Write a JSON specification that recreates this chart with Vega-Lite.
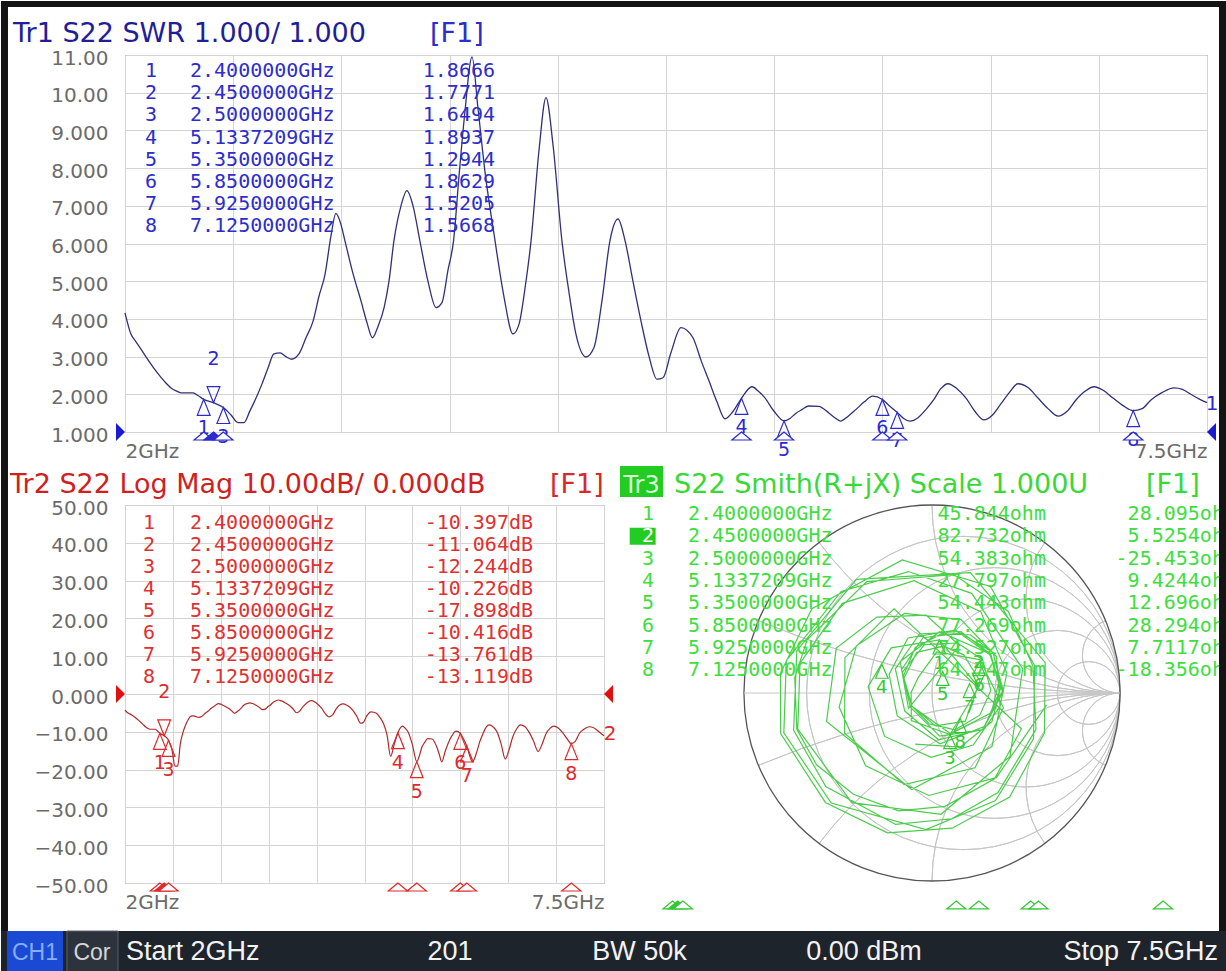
{
"$schema":"https://vega.github.io/schema/vega-lite/v6.json",
"padding":0,
"background":"#ffffff",
"config":{
 "view":{"stroke":"#6a6a6a","strokeWidth":1},
 "axis":{"ticks":false,"domain":false,"labelColor":"#6b6b6b","labelFont":"DejaVu Sans","labelFontSize":20,"gridColor":"#d4d4d4","gridWidth":1}
},
"datasets":{
 "trace":[
{"f":2.0,"s":4.16,"db":-4.26,"re":0.609,"im":-0.064},
{"f":2.03,"s":3.6,"db":-4.96,"re":0.342,"im":-0.45},
{"f":2.055,"s":3.4,"db":-5.26,"re":-0.017,"im":-0.545},
{"f":2.081,"s":3.2,"db":-5.62,"re":-0.353,"im":-0.387},
{"f":2.106,"s":3.0,"db":-6.02,"re":-0.494,"im":-0.075},
{"f":2.132,"s":2.8,"db":-6.49,"re":-0.402,"im":0.251},
{"f":2.157,"s":2.62,"db":-6.98,"re":-0.146,"im":0.423},
{"f":2.183,"s":2.45,"db":-7.53,"re":0.154,"im":0.391},
{"f":2.208,"s":2.3,"db":-8.09,"re":0.343,"im":0.194},
{"f":2.234,"s":2.17,"db":-8.66,"re":0.362,"im":-0.071},
{"f":2.26,"s":2.09,"db":-9.05,"re":0.219,"im":-0.277},
{"f":2.285,"s":2.04,"db":-9.32,"re":-0.004,"im":-0.342},
{"f":2.315,"s":2.04,"db":-9.32,"re":-0.252,"im":-0.231},
{"f":2.346,"s":2.04,"db":-9.32,"re":-0.34,"im":0.034},
{"f":2.373,"s":1.96,"db":-9.78,"re":-0.217,"im":0.24},
{"f":2.4,"s":1.8666,"db":-10.397,"re":0.039,"im":0.282},
{"f":2.45,"s":1.7771,"db":-11.064,"re":0.248,"im":0.031},
{"f":2.5,"s":1.6494,"db":-12.244,"re":0.096,"im":-0.221},
{"f":2.539,"s":1.45,"db":-14.72,"re":-0.11,"im":-0.147},
{"f":2.574,"s":1.25,"db":-19.08,"re":-0.111,"im":0.003},
{"f":2.605,"s":1.25,"db":-19.08,"re":-0.072,"im":0.085},
{"f":2.635,"s":1.56,"db":-13.2,"re":0.025,"im":0.218},
{"f":2.666,"s":1.9,"db":-10.16,"re":0.254,"im":0.178},
{"f":2.696,"s":2.27,"db":-8.21,"re":0.38,"im":-0.079},
{"f":2.727,"s":2.7,"db":-6.75,"re":0.229,"im":-0.398},
{"f":2.757,"s":3.07,"db":-5.87,"re":-0.148,"im":-0.487},
{"f":2.788,"s":3.1,"db":-5.81,"re":-0.465,"im":-0.214},
{"f":2.818,"s":3.0,"db":-6.02,"re":-0.463,"im":0.188},
{"f":2.846,"s":2.93,"db":-6.18,"re":-0.202,"im":0.448},
{"f":2.884,"s":3.07,"db":-5.87,"re":0.476,"im":-0.19},
{"f":2.92,"s":3.5,"db":-5.11,"re":0.333,"im":-0.456},
{"f":2.956,"s":3.94,"db":-4.51,"re":0.069,"im":-0.603},
{"f":2.986,"s":4.6,"db":-3.84,"re":-0.178,"im":-0.627},
{"f":3.017,"s":5.19,"db":-3.39,"re":-0.418,"im":-0.539},
{"f":3.047,"s":6.2,"db":-2.83,"re":-0.614,"im":-0.382},
{"f":3.072,"s":6.8,"db":-2.57,"re":-0.719,"im":-0.193},
{"f":3.098,"s":6.5,"db":-2.69,"re":-0.73,"im":0.082},
{"f":3.118,"s":6.07,"db":-2.89,"re":-0.664,"im":0.283},
{"f":3.159,"s":5.2,"db":-3.38,"re":-0.347,"im":0.593},
{"f":3.2,"s":4.47,"db":-3.95,"re":0.116,"im":0.63},
{"f":3.23,"s":3.9,"db":-4.56,"re":0.405,"im":0.435},
{"f":3.258,"s":3.5,"db":-5.11,"re":0.537,"im":0.143},
{"f":3.286,"s":3.8,"db":-4.68,"re":0.553,"im":-0.193},
{"f":3.317,"s":4.3,"db":-4.12,"re":0.351,"im":-0.529},
{"f":3.342,"s":5.0,"db":-3.52,"re":0.105,"im":-0.669},
{"f":3.367,"s":6.07,"db":-2.89,"re":-0.193,"im":-0.699},
{"f":3.403,"s":7.0,"db":-2.5,"re":-0.565,"im":-0.497},
{"f":3.433,"s":7.4,"db":-2.36,"re":-0.736,"im":-0.198},
{"f":3.464,"s":7.0,"db":-2.5,"re":-0.719,"im":0.225},
{"f":3.499,"s":6.07,"db":-2.89,"re":-0.402,"im":0.604},
{"f":3.54,"s":5.0,"db":-3.52,"re":0.204,"im":0.64},
{"f":3.581,"s":4.3,"db":-4.12,"re":0.602,"im":0.161},
{"f":3.611,"s":4.43,"db":-3.99,"re":0.598,"im":-0.213},
{"f":3.642,"s":5.3,"db":-3.32,"re":0.413,"im":-0.553},
{"f":3.67,"s":6.07,"db":-2.89,"re":0.107,"im":-0.719},
{"f":3.698,"s":7.8,"db":-2.24,"re":-0.237,"im":-0.744},
{"f":3.728,"s":9.5,"db":-1.84,"re":-0.567,"im":-0.582},
{"f":3.764,"s":10.95,"db":-1.59,"re":-0.805,"im":-0.216},
{"f":3.794,"s":9.6,"db":-1.82,"re":-0.806,"im":0.105},
{"f":3.83,"s":7.9,"db":-2.21,"re":-0.639,"im":0.448},
{"f":3.881,"s":6.07,"db":-2.89,"re":-0.158,"im":0.708},
{"f":3.926,"s":4.6,"db":-3.84,"re":0.311,"im":0.567},
{"f":3.972,"s":3.6,"db":-4.96,"re":0.546,"im":0.146},
{"f":4.003,"s":3.86,"db":-4.61,"re":0.54,"im":-0.244},
{"f":4.033,"s":4.8,"db":-3.67,"re":0.338,"im":-0.572},
{"f":4.064,"s":6.07,"db":-2.89,"re":-0.032,"im":-0.726},
{"f":4.105,"s":8.5,"db":-2.05,"re":-0.536,"im":-0.585},
{"f":4.14,"s":9.87,"db":-1.77,"re":-0.788,"im":-0.212},
{"f":4.176,"s":8.6,"db":-2.03,"re":-0.775,"im":0.172},
{"f":4.221,"s":6.07,"db":-2.89,"re":-0.483,"im":0.54},
{"f":4.257,"s":4.7,"db":-3.75,"re":-0.125,"im":0.646},
{"f":4.292,"s":3.6,"db":-4.96,"re":0.211,"im":0.53},
{"f":4.343,"s":2.99,"db":-6.04,"re":0.482,"im":0.129},
{"f":4.384,"s":3.24,"db":-5.54,"re":0.415,"im":-0.337},
{"f":4.425,"s":4.5,"db":-3.93,"re":0.048,"im":-0.645},
{"f":4.465,"s":6.07,"db":-2.89,"re":-0.426,"im":-0.583},
{"f":4.506,"s":6.65,"db":-2.63,"re":-0.714,"im":-0.192},
{"f":4.542,"s":6.07,"db":-2.89,"re":-0.702,"im":0.159},
{"f":4.582,"s":5.0,"db":-3.52,"re":-0.477,"im":0.477},
{"f":4.623,"s":3.94,"db":-4.51,"re":-0.095,"im":0.597},
{"f":4.664,"s":3.0,"db":-6.02,"re":0.259,"im":0.433},
{"f":4.704,"s":2.4,"db":-7.71,"re":0.398,"im":0.106},
{"f":4.735,"s":2.44,"db":-7.56,"re":0.319,"im":-0.285},
{"f":4.775,"s":3.1,"db":-5.81,"re":-0.108,"im":-0.513},
{"f":4.826,"s":3.77,"db":-4.72,"re":-0.561,"im":-0.151},
{"f":4.887,"s":3.5,"db":-5.11,"re":-0.509,"im":0.239},
{"f":4.928,"s":2.9,"db":-6.25,"re":-0.294,"im":0.404},
{"f":4.969,"s":2.35,"db":-7.89,"re":-0.032,"im":0.414},
{"f":5.009,"s":1.8,"db":-10.88,"re":0.146,"im":0.253},
{"f":5.05,"s":1.35,"db":-16.54,"re":-0.125,"im":-0.082},
{"f":5.091,"s":1.55,"db":-13.32,"re":-0.169,"im":0.167},
{"f":5.1337,"s":1.8937,"db":-10.226,"re":0.04,"im":0.326},
{"f":5.187,"s":2.2,"db":-8.52,"re":0.313,"im":0.206},
{"f":5.22,"s":2.08,"db":-9.1,"re":0.354,"im":0.053},
{"f":5.252,"s":1.91,"db":-10.1,"re":0.316,"im":-0.105},
{"f":5.299,"s":1.55,"db":-13.32,"re":0.099,"im":-0.217},
{"f":5.35,"s":1.2944,"db":-17.898,"re":-0.107,"im":-0.071},
{"f":5.38,"s":1.36,"db":-16.33,"re":-0.15,"im":0.077},
{"f":5.411,"s":1.5,"db":-13.98,"re":-0.081,"im":0.216},
{"f":5.443,"s":1.6,"db":-12.74,"re":0.062,"im":0.249},
{"f":5.475,"s":1.69,"db":-11.82,"re":0.169,"im":0.203},
{"f":5.526,"s":1.68,"db":-11.91,"re":0.255,"im":0.064},
{"f":5.579,"s":1.5,"db":-13.98,"re":0.177,"im":-0.15},
{"f":5.608,"s":1.38,"db":-15.93,"re":0.019,"im":-0.175},
{"f":5.637,"s":1.29,"db":-17.95,"re":-0.106,"im":-0.07},
{"f":5.676,"s":1.42,"db":-15.21,"re":-0.158,"im":0.11},
{"f":5.716,"s":1.6,"db":-12.74,"re":-0.04,"im":0.257},
{"f":5.758,"s":1.8,"db":-10.88,"re":0.136,"im":0.266},
{"f":5.8,"s":1.95,"db":-9.84,"re":0.269,"im":0.177},
{"f":5.85,"s":1.8629,"db":-10.416,"re":0.313,"im":0.013},
{"f":5.888,"s":1.68,"db":-11.91,"re":0.254,"im":-0.118},
{"f":5.925,"s":1.5205,"db":-13.761,"re":0.123,"im":-0.196},
{"f":5.958,"s":1.36,"db":-16.33,"re":-0.014,"im":-0.164},
{"f":5.99,"s":1.29,"db":-17.95,"re":-0.106,"im":-0.07},
{"f":6.031,"s":1.38,"db":-15.93,"re":-0.153,"im":0.087},
{"f":6.072,"s":1.6,"db":-12.74,"re":-0.089,"im":0.243},
{"f":6.11,"s":1.85,"db":-10.51,"re":0.05,"im":0.314},
{"f":6.147,"s":2.15,"db":-8.75,"re":0.204,"im":0.31},
{"f":6.183,"s":2.28,"db":-8.17,"re":0.325,"im":0.215},
{"f":6.229,"s":2.15,"db":-8.75,"re":0.374,"im":0.009},
{"f":6.275,"s":1.9,"db":-10.16,"re":0.269,"im":-0.195},
{"f":6.32,"s":1.55,"db":-13.32,"re":0.041,"im":-0.229},
{"f":6.366,"s":1.32,"db":-17.21,"re":-0.115,"im":-0.076},
{"f":6.41,"s":1.45,"db":-14.72,"re":-0.162,"im":0.124},
{"f":6.453,"s":1.75,"db":-11.29,"re":-0.048,"im":0.294},
{"f":6.496,"s":2.05,"db":-9.26,"re":0.153,"im":0.319},
{"f":6.539,"s":2.28,"db":-8.17,"re":0.325,"im":0.215},
{"f":6.59,"s":2.18,"db":-8.61,"re":0.38,"im":0.009},
{"f":6.641,"s":1.9,"db":-10.16,"re":0.271,"im":-0.193},
{"f":6.692,"s":1.62,"db":-12.52,"re":0.035,"im":-0.249},
{"f":6.743,"s":1.42,"db":-15.21,"re":-0.145,"im":-0.096},
{"f":6.789,"s":1.55,"db":-13.32,"re":-0.195,"im":0.128},
{"f":6.834,"s":1.85,"db":-10.51,"re":-0.067,"im":0.314},
{"f":6.88,"s":2.08,"db":-9.1,"re":0.153,"im":0.327},
{"f":6.926,"s":2.2,"db":-8.52,"re":0.313,"im":0.206},
{"f":6.974,"s":2.1,"db":-9.0,"re":0.364,"im":0.02},
{"f":7.022,"s":1.9,"db":-10.16,"re":0.281,"im":-0.177},
{"f":7.073,"s":1.7,"db":-11.73,"re":0.043,"im":-0.27},
{"f":7.125,"s":1.5668,"db":-13.119,"re":-0.185,"im":-0.122},
{"f":7.17,"s":1.62,"db":-12.52,"re":-0.228,"im":0.099},
{"f":7.215,"s":1.85,"db":-10.51,"re":-0.128,"im":0.293},
{"f":7.273,"s":2.05,"db":-9.26,"re":0.125,"im":0.334},
{"f":7.332,"s":2.17,"db":-8.66,"re":0.308,"im":0.203},
{"f":7.375,"s":2.13,"db":-8.85,"re":0.367,"im":0.039},
{"f":7.418,"s":2.0,"db":-9.54,"re":0.319,"im":-0.152},
{"f":7.459,"s":1.88,"db":-10.3,"re":0.15,"im":-0.288},
{"f":7.5,"s":1.78,"db":-11.03,"re":-0.09,"im":-0.272}
 ],
 "markers":[
{"m":1,"f":2.4,"s":1.8666,"db":-10.397,"re":0.039,"im":0.282,"ft":"2.4000000GHz","st":"1.8666","dt":"-10.397dB","rt":"45.844ohm","xt":"28.095ohm"},
{"m":2,"f":2.45,"s":1.7771,"db":-11.064,"re":0.248,"im":0.031,"ft":"2.4500000GHz","st":"1.7771","dt":"-11.064dB","rt":"82.732ohm","xt":"5.5254ohm"},
{"m":3,"f":2.5,"s":1.6494,"db":-12.244,"re":0.096,"im":-0.221,"ft":"2.5000000GHz","st":"1.6494","dt":"-12.244dB","rt":"54.383ohm","xt":"-25.453ohm"},
{"m":4,"f":5.1337209,"s":1.8937,"db":-10.226,"re":-0.267,"im":0.153,"ft":"5.1337209GHz","st":"1.8937","dt":"-10.226dB","rt":"27.797ohm","xt":"9.4244ohm"},
{"m":5,"f":5.35,"s":1.2944,"db":-17.898,"re":0.057,"im":0.115,"ft":"5.3500000GHz","st":"1.2944","dt":"-17.898dB","rt":"54.443ohm","xt":"12.696ohm"},
{"m":6,"f":5.85,"s":1.8629,"db":-10.416,"re":0.251,"im":0.167,"ft":"5.8500000GHz","st":"1.8629","dt":"-10.416dB","rt":"77.269ohm","xt":"28.294ohm"},
{"m":7,"f":5.925,"s":1.5205,"db":-13.761,"re":0.2,"im":0.05,"ft":"5.9250000GHz","st":"1.5205","dt":"-13.761dB","rt":"74.527ohm","xt":"7.7117ohm"},
{"m":8,"f":7.125,"s":1.5668,"db":-13.119,"re":0.15,"im":-0.136,"ft":"7.1250000GHz","st":"1.5668","dt":"-13.119dB","rt":"64.747ohm","xt":"-18.356ohm"}
 ],
 "smithgrid":[
{"kind":"o","cx":0,"cy":0,"rad":1,"t1":0,"t2":6.2832},
{"kind":"g","cx":0.1667,"cy":0,"rad":0.8333,"t1":0,"t2":6.2832},
{"kind":"g","cx":0.3333,"cy":0,"rad":0.6667,"t1":0,"t2":6.2832},
{"kind":"g","cx":0.5,"cy":0,"rad":0.5,"t1":0,"t2":6.2832},
{"kind":"g","cx":0.6667,"cy":0,"rad":0.3333,"t1":0,"t2":6.2832},
{"kind":"g","cx":0.8333,"cy":0,"rad":0.1667,"t1":0,"t2":6.2832},
{"kind":"g","cx":1,"cy":5,"rad":5,"t1":3.1416,"t2":3.5364},
{"kind":"g","cx":1,"cy":2,"rad":2,"t1":3.1416,"t2":4.0689},
{"kind":"g","cx":1,"cy":1,"rad":1,"t1":3.1416,"t2":4.7124},
{"kind":"g","cx":1,"cy":0.5,"rad":0.5,"t1":3.1416,"t2":5.3559},
{"kind":"g","cx":1,"cy":0.2,"rad":0.2,"t1":3.1416,"t2":5.8884},
{"kind":"g","cx":1,"cy":-5,"rad":5,"t1":5.8884,"t2":6.2832},
{"kind":"g","cx":1,"cy":-2,"rad":2,"t1":5.3559,"t2":6.2832},
{"kind":"g","cx":1,"cy":-1,"rad":1,"t1":4.7124,"t2":6.2832},
{"kind":"g","cx":1,"cy":-0.5,"rad":0.5,"t1":4.0689,"t2":6.2832},
{"kind":"g","cx":1,"cy":-0.2,"rad":0.2,"t1":3.5364,"t2":6.2832}
 ]
},
"bounds":"flush",
"spacing":73,
"vconcat":[
{
 "width":1082,"height":377,
 "resolve":{"scale":{"y":"independent"},"axis":{"x":"independent","y":"independent"}},
 "layer":[
  {"resolve":{"axis":{"x":"independent","y":"independent"}},
   "layer":[
   {"data":{"name":"trace"},
    "mark":{"type":"line","color":"#303078","strokeWidth":1.3,"interpolate":"monotone"},
    "encoding":{
     "x":{"field":"f","type":"quantitative","scale":{"domain":[2,7.5],"nice":false,"zero":false},"axis":{"orient":"bottom","values":[2,2.55,3.1,3.65,4.2,4.75,5.3,5.85,6.4,6.95,7.5],"grid":true,"labelExpr":"datum.value == 2 ? '2GHz' : (datum.value == 7.5 ? '7.5GHz' : '')","labelFlush":true,"labelOverlap":false,"labelPadding":9,"title":null}},
     "y":{"field":"s","type":"quantitative","scale":{"domain":[1,11],"nice":false,"zero":false},"axis":{"orient":"left","values":[1,2,3,4,5,6,7,8,9,10,11],"grid":true,"labelExpr":"format(datum.value, '.4g')","labelPadding":17,"labelOffset":3,"title":null}}}},
   {"data":{"name":"markers"},"transform":[{"filter":"datum.m != 2"}],
    "mark":{"type":"point","shape":"M0,0L-0.4,1L0.4,1Z","size":1024,"filled":false,"color":"#2a2ad0","strokeWidth":1.2,"opacity":1},
    "encoding":{"x":{"field":"f","type":"quantitative","scale":{"domain":[2,7.5],"nice":false,"zero":false},"axis":null},"y":{"field":"s","type":"quantitative","scale":{"domain":[1,11],"nice":false,"zero":false},"axis":null}}},
   {"data":{"name":"markers"},"transform":[{"filter":"datum.m == 2"}],
    "mark":{"type":"point","shape":"M0,0L-0.4,-1L0.4,-1Z","size":1024,"filled":false,"color":"#2a2ad0","strokeWidth":1.2,"opacity":1},
    "encoding":{"x":{"field":"f","type":"quantitative","scale":{"domain":[2,7.5],"nice":false,"zero":false},"axis":null},"y":{"field":"s","type":"quantitative","scale":{"domain":[1,11],"nice":false,"zero":false},"axis":null}}},
   {"data":{"name":"markers"},"transform":[{"filter":"datum.m != 2"}],
    "mark":{"type":"text","dy":29,"font":"DejaVu Sans","fontSize":19,"color":"#2a2ad0","baseline":"middle","align":"center"},
    "encoding":{"x":{"field":"f","type":"quantitative","scale":{"domain":[2,7.5],"nice":false,"zero":false},"axis":null},"y":{"field":"s","type":"quantitative","scale":{"domain":[1,11],"nice":false,"zero":false},"axis":null},"text":{"field":"m","type":"nominal"}}},
   {"data":{"name":"markers"},"transform":[{"filter":"datum.m == 2"}],
    "mark":{"type":"text","dy":-44,"font":"DejaVu Sans","fontSize":19,"color":"#2a2ad0","baseline":"middle","align":"center"},
    "encoding":{"x":{"field":"f","type":"quantitative","scale":{"domain":[2,7.5],"nice":false,"zero":false},"axis":null},"y":{"field":"s","type":"quantitative","scale":{"domain":[1,11],"nice":false,"zero":false},"axis":null},"text":{"field":"m","type":"nominal"}}},
   {"data":{"name":"markers"},
    "mark":{"type":"point","shape":"M0,0L-0.6,0.5L0.6,0.5Z","size":1024,"filled":true,"stroke":"#2a2ad0","strokeWidth":1.2,"opacity":1},
    "encoding":{"x":{"field":"f","type":"quantitative","scale":{"domain":[2,7.5],"nice":false,"zero":false},"axis":null},"y":{"datum":1,"type":"quantitative","scale":{"domain":[1,11],"nice":false,"zero":false},"axis":null},"fill":{"condition":{"test":"datum.m == 2","value":"#2a2ad0"},"value":"#ffffff"}}},
   {"data":{"values":[{}]},
    "mark":{"type":"point","shape":"M0,0L-0.9,-0.9L-0.9,0.9Z","size":400,"filled":true,"color":"#1a1ad0","opacity":1},
    "encoding":{"x":{"datum":2,"type":"quantitative","scale":{"domain":[2,7.5],"nice":false,"zero":false},"axis":null},"y":{"datum":1,"type":"quantitative","scale":{"domain":[1,11],"nice":false,"zero":false},"axis":null}}},
   {"data":{"values":[{}]},
    "mark":{"type":"point","shape":"M0,0L0.9,-0.9L0.9,0.9Z","size":400,"filled":true,"color":"#1a1ad0","opacity":1},
    "encoding":{"x":{"datum":7.5,"type":"quantitative","scale":{"domain":[2,7.5],"nice":false,"zero":false},"axis":null},"y":{"datum":1,"type":"quantitative","scale":{"domain":[1,11],"nice":false,"zero":false},"axis":null}}},
   {"data":{"values":[{}]},
    "mark":{"type":"text","text":"1","font":"DejaVu Sans","fontSize":20,"color":"#2a2ad0","align":"center","baseline":"middle"},
    "encoding":{"x":{"datum":7.5254,"type":"quantitative","scale":{"domain":[2,7.5],"nice":false,"zero":false},"axis":null},"y":{"datum":1.743,"type":"quantitative","scale":{"domain":[1,11],"nice":false,"zero":false},"axis":null}}},
   {"data":{"values":[{}]},
    "mark":{"type":"text","text":"Tr1 S22 SWR 1.000/ 1.000","font":"DejaVu Sans","fontSize":27,"color":"#1e1e9a","align":"left","baseline":"alphabetic"},
    "encoding":{"x":{"datum":1.4307,"type":"quantitative","scale":{"domain":[2,7.5],"nice":false,"zero":false},"axis":null},"y":{"datum":11.337,"type":"quantitative","scale":{"domain":[1,11],"nice":false,"zero":false},"axis":null}}},
   {"data":{"values":[{}]},
    "mark":{"type":"text","text":"[F1]","font":"DejaVu Sans","fontSize":27,"color":"#2d2dcc","align":"left","baseline":"alphabetic"},
    "encoding":{"x":{"datum":3.5504,"type":"quantitative","scale":{"domain":[2,7.5],"nice":false,"zero":false},"axis":null},"y":{"datum":11.337,"type":"quantitative","scale":{"domain":[1,11],"nice":false,"zero":false},"axis":null}}}
  ]},
  {"data":{"name":"markers"},
   "encoding":{"y":{"field":"m","type":"quantitative","scale":{"domain":[0.279,17.261],"reverse":true,"nice":false,"zero":false},"axis":null}},
   "layer":[
    {"mark":{"type":"text","font":"DejaVu Sans Mono","fontSize":20,"color":"#2d2dcc","align":"center","baseline":"middle"},
     "encoding":{"x":{"datum":2.1322,"type":"quantitative","scale":{"domain":[2,7.5],"nice":false,"zero":false},"axis":null},"text":{"field":"m","type":"nominal"}}},
    {"mark":{"type":"text","font":"DejaVu Sans Mono","fontSize":20,"color":"#2d2dcc","align":"left","baseline":"middle"},
     "encoding":{"x":{"datum":2.3304,"type":"quantitative","scale":{"domain":[2,7.5],"nice":false,"zero":false},"axis":null},"text":{"field":"ft","type":"nominal"}}},
    {"mark":{"type":"text","font":"DejaVu Sans Mono","fontSize":20,"color":"#2d2dcc","align":"right","baseline":"middle"},
     "encoding":{"x":{"datum":3.8808,"type":"quantitative","scale":{"domain":[2,7.5],"nice":false,"zero":false},"axis":null},"text":{"field":"st","type":"nominal"}}}
   ]}
 ]
},
{
 "bounds":"flush",
 "spacing":8,
 "hconcat":[
  {
   "width":479,"height":378,
   "resolve":{"scale":{"y":"independent"},"axis":{"x":"independent","y":"independent"}},
   "layer":[
    {"resolve":{"axis":{"x":"independent","y":"independent"}},
     "layer":[
     {"data":{"name":"trace"},
      "mark":{"type":"line","color":"#b02a2a","strokeWidth":1.2,"interpolate":"monotone"},
      "encoding":{
       "x":{"field":"f","type":"quantitative","scale":{"domain":[2,7.5],"nice":false,"zero":false},"axis":{"orient":"bottom","values":[2,2.55,3.1,3.65,4.2,4.75,5.3,5.85,6.4,6.95,7.5],"grid":true,"labelExpr":"datum.value == 2 ? '2GHz' : (datum.value == 7.5 ? '7.5GHz' : '')","labelFlush":true,"labelOverlap":false,"labelPadding":9,"title":null}},
       "y":{"field":"db","type":"quantitative","scale":{"domain":[-50,50],"nice":false,"zero":false},"axis":{"orient":"left","values":[-50,-40,-30,-20,-10,0,10,20,30,40,50],"grid":true,"labelExpr":"datum.value == 0 ? '0.000' : format(datum.value, '.2f')","labelPadding":17,"labelOffset":3,"title":null}}}},
     {"data":{"name":"markers"},"transform":[{"filter":"datum.m != 2"}],
      "mark":{"type":"point","shape":"M0,0L-0.4,1L0.4,1Z","size":1024,"filled":false,"color":"#dd2a2a","strokeWidth":1.2,"opacity":1},
      "encoding":{"x":{"field":"f","type":"quantitative","scale":{"domain":[2,7.5],"nice":false,"zero":false},"axis":null},"y":{"field":"db","type":"quantitative","scale":{"domain":[-50,50],"nice":false,"zero":false},"axis":null}}},
     {"data":{"name":"markers"},"transform":[{"filter":"datum.m == 2"}],
      "mark":{"type":"point","shape":"M0,0L-0.4,-1L0.4,-1Z","size":1024,"filled":false,"color":"#dd2a2a","strokeWidth":1.2,"opacity":1},
      "encoding":{"x":{"field":"f","type":"quantitative","scale":{"domain":[2,7.5],"nice":false,"zero":false},"axis":null},"y":{"field":"db","type":"quantitative","scale":{"domain":[-50,50],"nice":false,"zero":false},"axis":null}}},
     {"data":{"name":"markers"},"transform":[{"filter":"datum.m != 2"}],
      "mark":{"type":"text","dy":30,"font":"DejaVu Sans","fontSize":19,"color":"#dd2a2a","baseline":"middle","align":"center"},
      "encoding":{"x":{"field":"f","type":"quantitative","scale":{"domain":[2,7.5],"nice":false,"zero":false},"axis":null},"y":{"field":"db","type":"quantitative","scale":{"domain":[-50,50],"nice":false,"zero":false},"axis":null},"text":{"field":"m","type":"nominal"}}},
     {"data":{"name":"markers"},"transform":[{"filter":"datum.m == 2"}],
      "mark":{"type":"text","dy":-44,"font":"DejaVu Sans","fontSize":19,"color":"#dd2a2a","baseline":"middle","align":"center"},
      "encoding":{"x":{"field":"f","type":"quantitative","scale":{"domain":[2,7.5],"nice":false,"zero":false},"axis":null},"y":{"field":"db","type":"quantitative","scale":{"domain":[-50,50],"nice":false,"zero":false},"axis":null},"text":{"field":"m","type":"nominal"}}},
     {"data":{"name":"markers"},
      "mark":{"type":"point","shape":"M0,0L-0.6,0.5L0.6,0.5Z","size":1024,"filled":true,"stroke":"#dd2a2a","strokeWidth":1.2,"opacity":1},
      "encoding":{"x":{"field":"f","type":"quantitative","scale":{"domain":[2,7.5],"nice":false,"zero":false},"axis":null},"y":{"datum":-50,"type":"quantitative","scale":{"domain":[-50,50],"nice":false,"zero":false},"axis":null},"fill":{"condition":{"test":"datum.m == 2","value":"#dd2a2a"},"value":"#ffffff"}}},
     {"data":{"values":[{}]},
      "mark":{"type":"point","shape":"M0,0L-0.9,-0.9L-0.9,0.9Z","size":400,"filled":true,"color":"#e01010","opacity":1},
      "encoding":{"x":{"datum":2,"type":"quantitative","scale":{"domain":[2,7.5],"nice":false,"zero":false},"axis":null},"y":{"datum":0,"type":"quantitative","scale":{"domain":[-50,50],"nice":false,"zero":false},"axis":null}}},
     {"data":{"values":[{}]},
      "mark":{"type":"point","shape":"M0,0L0.9,-0.9L0.9,0.9Z","size":400,"filled":true,"color":"#e01010","opacity":1},
      "encoding":{"x":{"datum":7.5,"type":"quantitative","scale":{"domain":[2,7.5],"nice":false,"zero":false},"axis":null},"y":{"datum":0,"type":"quantitative","scale":{"domain":[-50,50],"nice":false,"zero":false},"axis":null}}},
     {"data":{"values":[{}]},
      "mark":{"type":"text","text":"2","font":"DejaVu Sans","fontSize":20,"color":"#dd2a2a","align":"center","baseline":"middle"},
      "encoding":{"x":{"datum":7.569,"type":"quantitative","scale":{"domain":[2,7.5],"nice":false,"zero":false},"axis":null},"y":{"datum":-10.66,"type":"quantitative","scale":{"domain":[-50,50],"nice":false,"zero":false},"axis":null}}},
     {"data":{"values":[{}]},
      "mark":{"type":"text","text":"Tr2 S22 Log Mag 10.00dB/ 0.000dB","font":"DejaVu Sans","fontSize":27,"color":"#cf1f1f","align":"left","baseline":"alphabetic"},
      "encoding":{"x":{"datum":0.6796,"type":"quantitative","scale":{"domain":[2,7.5],"nice":false,"zero":false},"axis":null},"y":{"datum":53.175,"type":"quantitative","scale":{"domain":[-50,50],"nice":false,"zero":false},"axis":null}}},
     {"data":{"values":[{}]},
      "mark":{"type":"text","text":"[F1]","font":"DejaVu Sans","fontSize":27,"color":"#d42a2a","align":"left","baseline":"alphabetic"},
      "encoding":{"x":{"datum":6.88,"type":"quantitative","scale":{"domain":[2,7.5],"nice":false,"zero":false},"axis":null},"y":{"datum":53.175,"type":"quantitative","scale":{"domain":[-50,50],"nice":false,"zero":false},"axis":null}}}
    ]},
    {"data":{"name":"markers"},
     "encoding":{"y":{"field":"m","type":"quantitative","scale":{"domain":[0.199,17.303],"reverse":true,"nice":false,"zero":false},"axis":null}},
     "layer":[
      {"mark":{"type":"text","font":"DejaVu Sans Mono","fontSize":20,"color":"#e03030","align":"center","baseline":"middle"},
       "encoding":{"x":{"datum":2.2756,"type":"quantitative","scale":{"domain":[2,7.5],"nice":false,"zero":false},"axis":null},"text":{"field":"m","type":"nominal"}}},
      {"mark":{"type":"text","font":"DejaVu Sans Mono","fontSize":20,"color":"#e03030","align":"left","baseline":"middle"},
       "encoding":{"x":{"datum":2.746,"type":"quantitative","scale":{"domain":[2,7.5],"nice":false,"zero":false},"axis":null},"text":{"field":"ft","type":"nominal"}}},
      {"mark":{"type":"text","font":"DejaVu Sans Mono","fontSize":20,"color":"#e03030","align":"right","baseline":"middle"},
       "encoding":{"x":{"datum":6.685,"type":"quantitative","scale":{"domain":[2,7.5],"nice":false,"zero":false},"axis":null},"text":{"field":"dt","type":"nominal"}}}
     ]}
   ]
  },
  {
   "width":607,"height":378,
   "view":{"stroke":null},
   "resolve":{"scale":{"x":"independent","y":"independent"},"axis":{"x":"independent","y":"independent"}},
   "layer":[
    {"layer":[
     {"data":{"name":"smithgrid"},"transform":[{"filter":"datum.kind == 'g'"}],
      "mark":{"type":"arc","filled":false,"color":"#c6c6c6","strokeWidth":1},
      "encoding":{
       "x":{"field":"cx","type":"quantitative","scale":{"domain":[-1.7021,1.5266],"nice":false,"zero":false},"axis":null},
       "y":{"field":"cy","type":"quantitative","scale":{"domain":[-1.0106,1.0],"nice":false,"zero":false},"axis":null},
       "theta":{"field":"t1","type":"quantitative","scale":null,"stack":null},
       "theta2":{"field":"t2"},
       "radius":{"field":"rad","type":"quantitative","scale":{"type":"linear","domain":[0,1],"range":[0,188],"zero":true,"nice":false}},
       "radius2":{"field":"rad"}}},
     {"data":{"name":"smithgrid"},"transform":[{"filter":"datum.kind == 'o'"}],
      "mark":{"type":"arc","filled":false,"color":"#555555","strokeWidth":1.3},
      "encoding":{
       "x":{"field":"cx","type":"quantitative","scale":{"domain":[-1.7021,1.5266],"nice":false,"zero":false},"axis":null},
       "y":{"field":"cy","type":"quantitative","scale":{"domain":[-1.0106,1.0],"nice":false,"zero":false},"axis":null},
       "theta":{"field":"t1","type":"quantitative","scale":null,"stack":null},
       "theta2":{"field":"t2"},
       "radius":{"field":"rad","type":"quantitative","scale":{"type":"linear","domain":[0,1],"range":[0,188],"zero":true,"nice":false}},
       "radius2":{"field":"rad"}}},
     {"data":{"values":[{}]},
      "mark":{"type":"rule","color":"#c6c6c6","strokeWidth":1},
      "encoding":{"x":{"datum":-1,"type":"quantitative","scale":{"domain":[-1.7021,1.5266],"nice":false,"zero":false},"axis":null},"x2":{"datum":1},"y":{"datum":0,"type":"quantitative","scale":{"domain":[-1.0106,1.0],"nice":false,"zero":false},"axis":null}}},
     {"data":{"name":"trace"},
      "mark":{"type":"line","color":"#4ccc4c","strokeWidth":1.2},
      "encoding":{"x":{"field":"re","type":"quantitative","scale":{"domain":[-1.7021,1.5266],"nice":false,"zero":false},"axis":null},"y":{"field":"im","type":"quantitative","scale":{"domain":[-1.0106,1.0],"nice":false,"zero":false},"axis":null},"order":{"field":"f","type":"quantitative"}}},
     {"data":{"name":"markers"},"transform":[{"filter":"datum.m != 2"}],
      "mark":{"type":"point","shape":"M0,0L-0.45,1L0.45,1Z","size":784,"filled":false,"color":"#35c835","strokeWidth":1.2,"opacity":1},
      "encoding":{"x":{"field":"re","type":"quantitative","scale":{"domain":[-1.7021,1.5266],"nice":false,"zero":false},"axis":null},"y":{"field":"im","type":"quantitative","scale":{"domain":[-1.0106,1.0],"nice":false,"zero":false},"axis":null}}},
     {"data":{"name":"markers"},"transform":[{"filter":"datum.m == 2"}],
      "mark":{"type":"point","shape":"M0,0L-0.45,-1L0.45,-1Z","size":784,"filled":false,"color":"#35c835","strokeWidth":1.2,"opacity":1},
      "encoding":{"x":{"field":"re","type":"quantitative","scale":{"domain":[-1.7021,1.5266],"nice":false,"zero":false},"axis":null},"y":{"field":"im","type":"quantitative","scale":{"domain":[-1.0106,1.0],"nice":false,"zero":false},"axis":null}}},
     {"data":{"name":"markers"},"transform":[{"filter":"datum.m != 2"}],
      "mark":{"type":"text","dy":24,"font":"DejaVu Sans","fontSize":18,"color":"#35c835","baseline":"middle","align":"center"},
      "encoding":{"x":{"field":"re","type":"quantitative","scale":{"domain":[-1.7021,1.5266],"nice":false,"zero":false},"axis":null},"y":{"field":"im","type":"quantitative","scale":{"domain":[-1.0106,1.0],"nice":false,"zero":false},"axis":null},"text":{"field":"m","type":"nominal"}}},
     {"data":{"name":"markers"},"transform":[{"filter":"datum.m == 2"}],
      "mark":{"type":"text","dy":-24,"font":"DejaVu Sans","fontSize":18,"color":"#35c835","baseline":"middle","align":"center"},
      "encoding":{"x":{"field":"re","type":"quantitative","scale":{"domain":[-1.7021,1.5266],"nice":false,"zero":false},"axis":null},"y":{"field":"im","type":"quantitative","scale":{"domain":[-1.0106,1.0],"nice":false,"zero":false},"axis":null},"text":{"field":"m","type":"nominal"}}},
     {"data":{"values":[{}]},
      "mark":{"type":"rect","color":"#22cc22"},
      "encoding":{"x":{"datum":-1.6596,"type":"quantitative","scale":{"domain":[-1.7021,1.5266],"nice":false,"zero":false},"axis":null},"x2":{"datum":-1.4309},"y":{"datum":1.0426,"type":"quantitative","scale":{"domain":[-1.0106,1.0],"nice":false,"zero":false},"axis":null},"y2":{"datum":1.2074}}},
     {"data":{"values":[{}]},
      "mark":{"type":"text","text":"Tr3","font":"DejaVu Sans","fontSize":24,"color":"#d9ffd9","align":"center","baseline":"alphabetic"},
      "encoding":{"x":{"datum":-1.545,"type":"quantitative","scale":{"domain":[-1.7021,1.5266],"nice":false,"zero":false},"axis":null},"y":{"datum":1.0638,"type":"quantitative","scale":{"domain":[-1.0106,1.0],"nice":false,"zero":false},"axis":null}}},
     {"data":{"values":[{}]},
      "mark":{"type":"text","text":"S22 Smith(R+jX) Scale 1.000U","font":"DejaVu Sans","fontSize":27,"color":"#38d838","align":"left","baseline":"alphabetic"},
      "encoding":{"x":{"datum":-1.372,"type":"quantitative","scale":{"domain":[-1.7021,1.5266],"nice":false,"zero":false},"axis":null},"y":{"datum":1.0638,"type":"quantitative","scale":{"domain":[-1.0106,1.0],"nice":false,"zero":false},"axis":null}}},
     {"data":{"values":[{}]},
      "mark":{"type":"text","text":"[F1]","font":"DejaVu Sans","fontSize":27,"color":"#38d838","align":"left","baseline":"alphabetic"},
      "encoding":{"x":{"datum":1.138,"type":"quantitative","scale":{"domain":[-1.7021,1.5266],"nice":false,"zero":false},"axis":null},"y":{"datum":1.0638,"type":"quantitative","scale":{"domain":[-1.0106,1.0],"nice":false,"zero":false},"axis":null}}},
     {"data":{"values":[{}]},"mark":{"type":"rect","color":"#1e242c"},
      "encoding":{"x":{"datum":-4.9521,"type":"quantitative","scale":{"domain":[-1.7021,1.5266],"nice":false,"zero":false},"axis":null},"x2":{"datum":1.5691},"y":{"datum":-1.266,"type":"quantitative","scale":{"domain":[-1.0106,1.0],"nice":false,"zero":false},"axis":null},"y2":{"datum":-1.484}}},
     {"data":{"values":[{}]},"mark":{"type":"rect","color":"#141414"},
      "encoding":{"x":{"datum":-4.9521,"type":"quantitative","scale":{"domain":[-1.7021,1.5266],"nice":false,"zero":false},"axis":null},"x2":{"datum":-4.9149},"y":{"datum":3.6809,"type":"quantitative","scale":{"domain":[-1.0106,1.0],"nice":false,"zero":false},"axis":null},"y2":{"datum":-1.266}}},
     {"data":{"values":[{}]},"mark":{"type":"rect","color":"#141414"},
      "encoding":{"x":{"datum":1.5266,"type":"quantitative","scale":{"domain":[-1.7021,1.5266],"nice":false,"zero":false},"axis":null},"x2":{"datum":1.5691},"y":{"datum":3.6809,"type":"quantitative","scale":{"domain":[-1.0106,1.0],"nice":false,"zero":false},"axis":null},"y2":{"datum":-1.266}}},
     {"data":{"values":[{}]},"mark":{"type":"rect","color":"#141414"},
      "encoding":{"x":{"datum":-4.9521,"type":"quantitative","scale":{"domain":[-1.7021,1.5266],"nice":false,"zero":false},"axis":null},"x2":{"datum":1.5691},"y":{"datum":3.6809,"type":"quantitative","scale":{"domain":[-1.0106,1.0],"nice":false,"zero":false},"axis":null},"y2":{"datum":3.6489}}},
     {"data":{"values":[{}]},"mark":{"type":"rect","color":"#1a4ad4"},
      "encoding":{"x":{"datum":-4.9202,"type":"quantitative","scale":{"domain":[-1.7021,1.5266],"nice":false,"zero":false},"axis":null},"x2":{"datum":-4.6223},"y":{"datum":-1.266,"type":"quantitative","scale":{"domain":[-1.0106,1.0],"nice":false,"zero":false},"axis":null},"y2":{"datum":-1.484}}},
     {"data":{"values":[{}]},"mark":{"type":"rect","color":"#2d333c","stroke":"#59606a","strokeWidth":1},
      "encoding":{"x":{"datum":-4.6011,"type":"quantitative","scale":{"domain":[-1.7021,1.5266],"nice":false,"zero":false},"axis":null},"x2":{"datum":-4.3298},"y":{"datum":-1.266,"type":"quantitative","scale":{"domain":[-1.0106,1.0],"nice":false,"zero":false},"axis":null},"y2":{"datum":-1.484}}},
     {"data":{"values":[{}]},"mark":{"type":"text","text":"CH1","font":"Liberation Sans","fontSize":23,"color":"#86adff","align":"center","baseline":"alphabetic"},
      "encoding":{"x":{"datum":-4.7713,"type":"quantitative","scale":{"domain":[-1.7021,1.5266],"nice":false,"zero":false},"axis":null},"y":{"datum":-1.4202,"type":"quantitative","scale":{"domain":[-1.0106,1.0],"nice":false,"zero":false},"axis":null}}},
     {"data":{"values":[{}]},"mark":{"type":"text","text":"Cor","font":"Liberation Sans","fontSize":23,"color":"#d4d4d4","align":"center","baseline":"alphabetic"},
      "encoding":{"x":{"datum":-4.4681,"type":"quantitative","scale":{"domain":[-1.7021,1.5266],"nice":false,"zero":false},"axis":null},"y":{"datum":-1.4202,"type":"quantitative","scale":{"domain":[-1.0106,1.0],"nice":false,"zero":false},"axis":null}}},
     {"data":{"values":[{}]},"mark":{"type":"text","text":"Start 2GHz","font":"Liberation Sans","fontSize":27,"color":"#f2f2f2","align":"left","baseline":"alphabetic"},
      "encoding":{"x":{"datum":-4.2872,"type":"quantitative","scale":{"domain":[-1.7021,1.5266],"nice":false,"zero":false},"axis":null},"y":{"datum":-1.4202,"type":"quantitative","scale":{"domain":[-1.0106,1.0],"nice":false,"zero":false},"axis":null}}},
     {"data":{"values":[{}]},"mark":{"type":"text","text":"201","font":"Liberation Sans","fontSize":27,"color":"#f2f2f2","align":"center","baseline":"alphabetic"},
      "encoding":{"x":{"datum":-2.5638,"type":"quantitative","scale":{"domain":[-1.7021,1.5266],"nice":false,"zero":false},"axis":null},"y":{"datum":-1.4202,"type":"quantitative","scale":{"domain":[-1.0106,1.0],"nice":false,"zero":false},"axis":null}}},
     {"data":{"values":[{}]},"mark":{"type":"text","text":"BW 50k","font":"Liberation Sans","fontSize":27,"color":"#f2f2f2","align":"center","baseline":"alphabetic"},
      "encoding":{"x":{"datum":-1.5559,"type":"quantitative","scale":{"domain":[-1.7021,1.5266],"nice":false,"zero":false},"axis":null},"y":{"datum":-1.4202,"type":"quantitative","scale":{"domain":[-1.0106,1.0],"nice":false,"zero":false},"axis":null}}},
     {"data":{"values":[{}]},"mark":{"type":"text","text":"0.00 dBm","font":"Liberation Sans","fontSize":27,"color":"#f2f2f2","align":"center","baseline":"alphabetic"},
      "encoding":{"x":{"datum":-0.3617,"type":"quantitative","scale":{"domain":[-1.7021,1.5266],"nice":false,"zero":false},"axis":null},"y":{"datum":-1.4202,"type":"quantitative","scale":{"domain":[-1.0106,1.0],"nice":false,"zero":false},"axis":null}}},
     {"data":{"values":[{}]},"mark":{"type":"text","text":"Stop 7.5GHz","font":"Liberation Sans","fontSize":27,"color":"#f2f2f2","align":"right","baseline":"alphabetic"},
      "encoding":{"x":{"datum":1.5213,"type":"quantitative","scale":{"domain":[-1.7021,1.5266],"nice":false,"zero":false},"axis":null},"y":{"datum":-1.4202,"type":"quantitative","scale":{"domain":[-1.0106,1.0],"nice":false,"zero":false},"axis":null}}}
    ]},
    {"data":{"name":"markers"},
     "encoding":{"y":{"field":"m","type":"quantitative","scale":{"domain":[0.596,17.547],"reverse":true,"nice":false,"zero":false},"axis":null}},
     "layer":[
      {"transform":[{"filter":"datum.m == 2"}],
       "mark":{"type":"rect","color":"#22cc22","height":17},
       "encoding":{"x":{"datum":-1.608,"type":"quantitative","scale":{"domain":[-1.7021,1.5266],"nice":false,"zero":false},"axis":null},"x2":{"datum":-1.47}}},
      {"mark":{"type":"text","font":"DejaVu Sans Mono","fontSize":20,"align":"center","baseline":"middle"},
       "encoding":{"x":{"datum":-1.511,"type":"quantitative","scale":{"domain":[-1.7021,1.5266],"nice":false,"zero":false},"axis":null},"text":{"field":"m","type":"nominal"},"color":{"condition":{"test":"datum.m == 2","value":"#ffffff"},"value":"#3ede3e"}}},
      {"mark":{"type":"text","font":"DejaVu Sans Mono","fontSize":20,"color":"#3ede3e","align":"left","baseline":"middle"},
       "encoding":{"x":{"datum":-1.298,"type":"quantitative","scale":{"domain":[-1.7021,1.5266],"nice":false,"zero":false},"axis":null},"text":{"field":"ft","type":"nominal"}}},
      {"mark":{"type":"text","font":"DejaVu Sans Mono","fontSize":20,"color":"#3ede3e","align":"right","baseline":"middle"},
       "encoding":{"x":{"datum":0.606,"type":"quantitative","scale":{"domain":[-1.7021,1.5266],"nice":false,"zero":false},"axis":null},"text":{"field":"rt","type":"nominal"}}},
      {"mark":{"type":"text","font":"DejaVu Sans Mono","fontSize":20,"color":"#3ede3e","align":"right","baseline":"middle","clip":true},
       "encoding":{"x":{"datum":1.617,"type":"quantitative","scale":{"domain":[-1.7021,1.5266],"nice":false,"zero":false},"axis":null},"text":{"field":"xt","type":"nominal"}}}
     ]},
    {"data":{"name":"markers"},
     "mark":{"type":"point","shape":"M0,0L-0.6,0.5L0.6,0.5Z","size":1024,"filled":true,"stroke":"#35c835","strokeWidth":1.2,"opacity":1},
     "encoding":{"x":{"field":"f","type":"quantitative","scale":{"domain":[1.817,7.664],"nice":false,"zero":false},"axis":null},"y":{"datum":-1.106,"type":"quantitative","scale":{"domain":[-1.0106,1.0],"nice":false,"zero":false},"axis":null},"fill":{"condition":{"test":"datum.m == 2","value":"#35c835"},"value":"#ffffff"}}}
   ]
  }
 ]
}
]
}
